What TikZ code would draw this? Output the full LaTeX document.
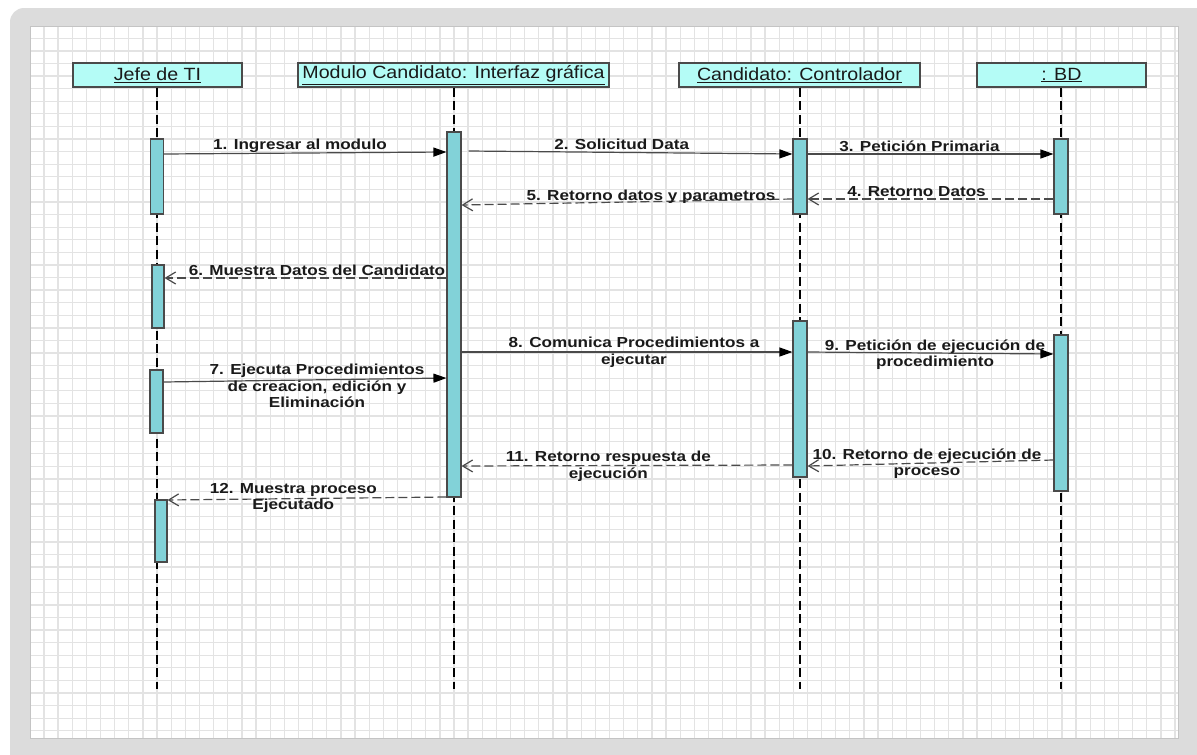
\documentclass[tikz,border=0pt]{standalone}
\usepackage{fontspec}
\usetikzlibrary{arrows.meta}
\newfontfamily\hdrfont{Liberation Sans}[FakeStretch=1.11]
\newfontfamily\lblfont{Liberation Sans}[FakeStretch=1.18]
\definecolor{frameGray}{HTML}{DCDCDC}
\definecolor{frameEdge}{HTML}{C4C4C4}
\definecolor{gridGray}{HTML}{E3E3E3}
\definecolor{headFill}{HTML}{B4FCF6}
\definecolor{barFill}{HTML}{82D2D8}
\definecolor{edgeGray}{HTML}{4A4A4A}
\definecolor{inkGray}{HTML}{1A1A1A}
\tikzset{
  header/.style={draw=edgeGray, line width=1.1pt, fill=headFill, minimum height=24pt,
    inner sep=0pt, text=inkGray, font=\hdrfont\fontsize{17.7}{20}\selectfont},
  bar/.style={draw=edgeGray, line width=1.1pt, fill=barFill, minimum width=13pt, inner sep=0pt},
  lifeline/.style={draw=black, line width=1.3pt, dash pattern=on 9pt off 4.5pt},
  call/.style={draw=edgeGray, line width=1.2pt, -{Triangle[length=13pt,width=9pt,color=black]}},
  reply/.style={draw=edgeGray, line width=1.2pt, dash pattern=on 9pt off 4pt,
    -{Straight Barb[length=10pt,width=12pt]}},
  msglabel/.style={anchor=base, inner sep=0pt, align=center, text=inkGray,
    font=\lblfont\bfseries\fontsize{14.5}{16.6}\selectfont}
}
\begin{document}
\begin{tikzpicture}[x=1pt,y=-1pt]
\useasboundingbox (0,0) rectangle (1197,755);
% window frame and squared paper
\fill[frameGray, rounded corners=14pt] (10,8) rectangle (1210,768);
\fill[white] (30,26) rectangle (1178,738);
\foreach \i in {0,...,80} \draw[gridGray, line width=1.3pt] ({44+\i*14.1375},26) -- ({44+\i*14.1375},738);
\foreach \j in {0,...,55} \draw[gridGray, line width=1.3pt] (30,{38.3+\j*12.59}) -- (1178,{38.3+\j*12.59});
\draw[frameEdge, line width=0.9pt] (30,26) rectangle (1178,738);

% lifeline heads
\node[header, minimum width=169pt] (jefe) at (157.5,75) {\underline{Jefe de TI}};
\node[header, minimum width=311pt] (gui) at (453.5,75) {\underline{Modulo Candidato: Interfaz gráfica}};
\node[header, minimum width=241pt] (ctrl) at (799.5,75) {\underline{Candidato: Controlador}};
\node[header, minimum width=169pt] (bd) at (1061.5,75) {\underline{: BD}};

% lifelines
\coordinate (jefeEnd) at (157,689);
\coordinate (guiEnd) at (454,689);
\coordinate (ctrlEnd) at (800,689);
\coordinate (bdEnd) at (1061,689);
\draw[lifeline] (jefe.south -| jefeEnd) -- (jefeEnd);
\draw[lifeline] (gui.south -| guiEnd) -- (guiEnd);
\draw[lifeline] (ctrl.south -| ctrlEnd) -- (ctrlEnd);
\draw[lifeline] (bd.south -| bdEnd) -- (bdEnd);

% activation bars
\node[bar, minimum height=75pt] (j1) at (157,176.5) {};
\node[bar, minimum height=63pt, minimum width=12pt] (j2) at (158,296.5) {};
\node[bar, minimum height=63pt] (j3) at (156.5,401.5) {};
\node[bar, minimum height=62pt, minimum width=12pt] (j4) at (161,531) {};
\node[bar, minimum height=365pt, minimum width=14pt] (m) at (454,314.5) {};
\node[bar, minimum height=75pt, minimum width=14pt] (c1) at (800,176.5) {};
\node[bar, minimum height=156pt, minimum width=14pt] (c2) at (800,399) {};
\node[bar, minimum height=75pt, minimum width=14pt] (b1) at (1061,176.5) {};
\node[bar, minimum height=156pt, minimum width=14pt] (b2) at (1061,413) {};

% messages (multi-line labels sit on the baseline of their last line)
\draw[call] (j1.east |- 0,154) -- (m.west |- 0,152);
\node[msglabel] (l1) at (300,149) {1. Ingresar al modulo};
\draw[call] ([xshift=7pt]m.east |- 0,151) -- (c1.west |- 0,154);
\node[msglabel] (l2) at (621.7,149.5) {2. Solicitud Data};
\draw[call] (c1.east |- 0,154) -- (b1.west |- 0,154);
\node[msglabel] (l3) at (919.5,151.5) {3. Petición Primaria};
\draw[reply] (b1.west |- 0,199) -- (c1.east |- 0,199);
\node[msglabel] (l4) at (916.5,196.5) {4. Retorno Datos};
\draw[reply] (c1.west |- 0,199) -- (m.east |- 0,205);
\node[msglabel] (l5) at (651,200) {5. Retorno datos y parametros};
\draw[reply] (m.west |- 0,278) -- (j2.east |- 0,278);
\node[msglabel] (l6) at (317,275.7) {6. Muestra Datos del Candidato};
\draw[call] (j3.east |- 0,382) -- (m.west |- 0,378);
\node[msglabel] (l7) at (317,407.8) {7. Ejecuta Procedimientos\\de creacion, edición y\\Eliminación};
\draw[call] (m.east |- 0,352) -- (c2.west |- 0,352);
\node[msglabel] (l8) at (634,364.3) {8. Comunica Procedimientos a\\ejecutar};
\draw[call] (c2.east |- 0,352) -- (b2.west |- 0,354);
\node[msglabel] (l9) at (935,366.6) {9. Petición de ejecución de\\procedimiento};
\draw[reply] (b2.west |- 0,460) -- (c2.east |- 0,466);
\node[msglabel] (l10) at (927,475.6) {10. Retorno de ejecución de\\proceso};
\draw[reply] (c2.west |- 0,465) -- (m.east |- 0,466);
\node[msglabel] (l11) at (608.3,478.3) {11. Retorno respuesta de\\ejecución};
\draw[reply] (m.west |- 0,497) -- (j4.east |- 0,500);
\node[msglabel] (l12) at (293.3,509.9) {12. Muestra proceso\\Ejecutado};
\end{tikzpicture}
\end{document}
